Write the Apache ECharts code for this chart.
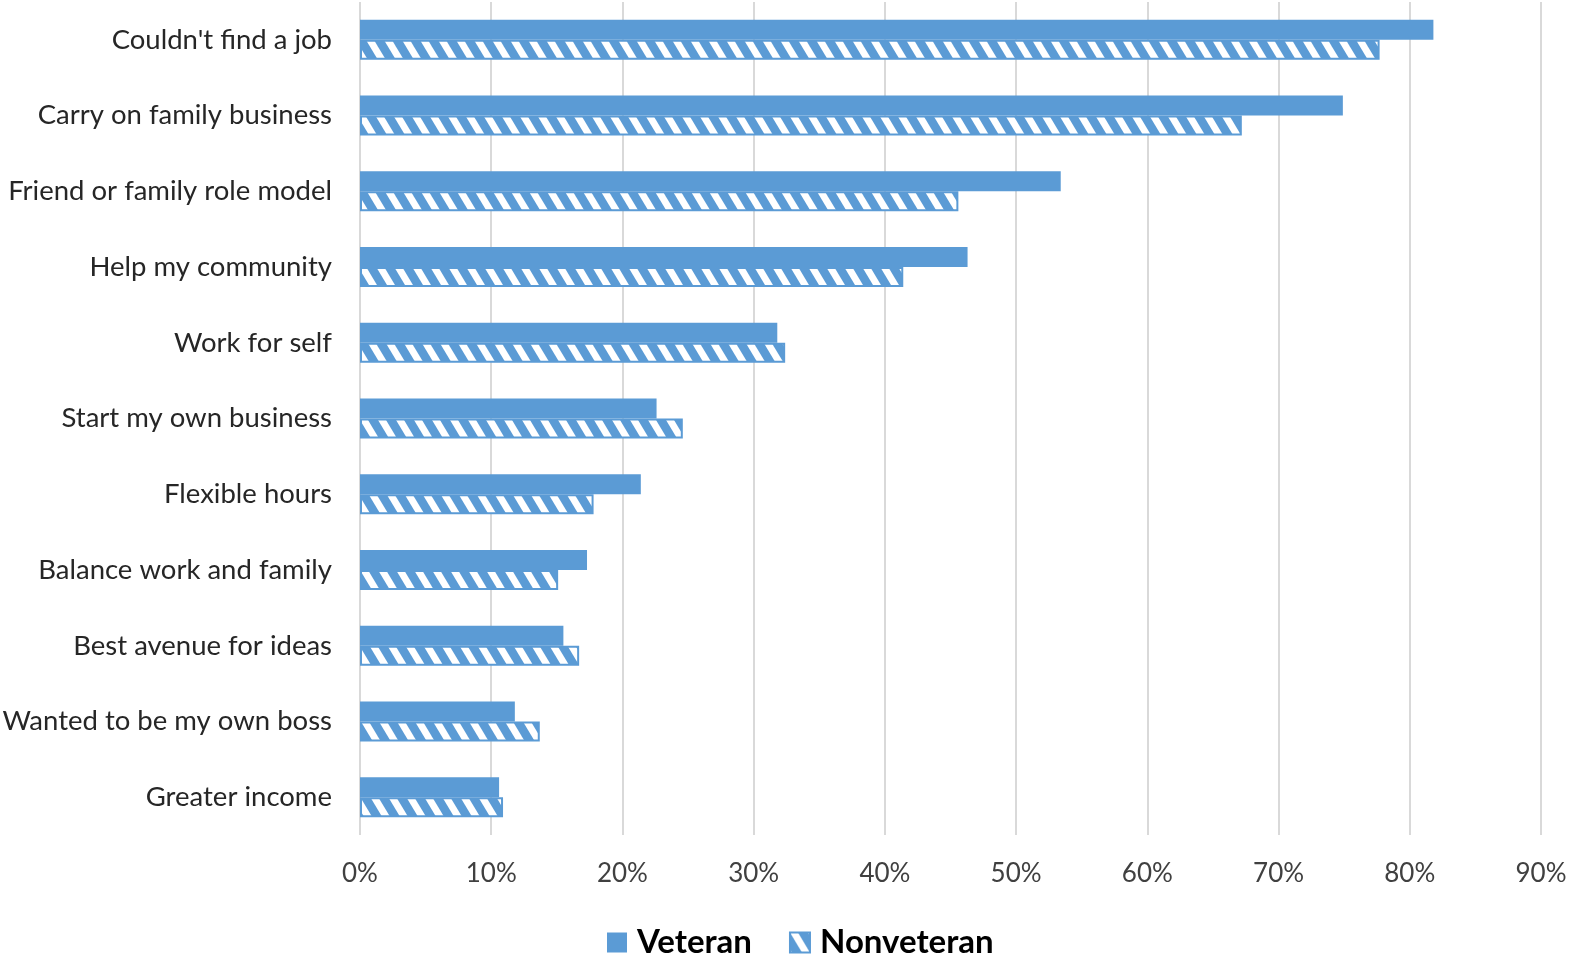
<!DOCTYPE html>
<html>
<head>
<meta charset="utf-8">
<script src="https://cdn.jsdelivr.net/npm/echarts@6/dist/echarts.min.js"></script>
<style>
  html, body { margin: 0; padding: 0; background: #ffffff; }
  #chart { width: 1570px; height: 957px; }
</style>
</head>
<body>
<div id="chart"></div>
<script>
// Reasons for starting a business, share of respondents (%)
const categories = [
  "Couldn't find a job",
  'Carry on family business',
  'Friend or family role model',
  'Help my community',
  'Work for self',
  'Start my own business',
  'Flexible hours',
  'Balance work and family',
  'Best avenue for ideas',
  'Wanted to be my own boss',
  'Greater income'
];
const veteran =    [81.8, 74.9, 53.4, 46.3, 31.8, 22.6, 21.4, 17.3, 15.5, 11.8, 10.6];
const nonveteran = [77.7, 67.2, 45.6, 41.4, 32.4, 24.6, 17.8, 15.1, 16.7, 13.7, 10.9];
const seriesNames = ['Veteran', 'Nonveteran'];

const BLUE = '#5B9BD5';
const FONT = 'Lato, "Open Sans", sans-serif';

// Diagonal hatch tile for the Nonveteran bars
function hatchTile() {
  const w = 18, h = 30, white = 8;
  const c = document.createElement('canvas');
  c.width = w; c.height = h;
  const g = c.getContext('2d');
  g.fillStyle = BLUE;
  g.fillRect(0, 0, w, h);
  g.fillStyle = '#ffffff';
  for (let k = -2; k <= 1; k++) {
    const x = k * w;
    g.beginPath();
    g.moveTo(x, 0);
    g.lineTo(x + white, 0);
    g.lineTo(x + white + w, h);
    g.lineTo(x + w, h);
    g.closePath();
    g.fill();
  }
  return c;
}

const chart = echarts.init(document.getElementById('chart'), null, { renderer: 'canvas' });

chart.setOption({
  animation: false,
  backgroundColor: '#ffffff',
  grid: {
    left: 360, right: 29, top: 2, bottom: 122,
    containLabel: false,
    outerBoundsMode: 'none'
  },
  legend: {
    top: 921,
    left: 602,
    icon: 'rect',
    itemWidth: 20,
    itemHeight: 20,
    itemGap: 37,
    textStyle: {
      fontFamily: FONT, fontSize: 33, fontWeight: 'bold', color: '#000000',
      padding: [0, 0, 0, 5]
    },
    data: seriesNames
  },
  xAxis: {
    type: 'value',
    min: 0,
    max: 90,
    interval: 10,
    axisLine: { show: false },
    axisTick: { show: false },
    axisLabel: {
      formatter: '{value}%',
      fontFamily: FONT,
      fontSize: 26,
      color: '#404040',
      margin: 26
    },
    splitLine: { show: true, lineStyle: { color: '#d9d9d9', width: 2 } }
  },
  yAxis: {
    type: 'category',
    inverse: true,
    data: categories,
    axisLine: { show: false },
    axisTick: { show: false },
    axisLabel: {
      fontFamily: FONT,
      fontSize: 27.5,
      color: '#262626',
      margin: 28
    }
  },
  series: [
    {
      name: seriesNames[0],
      type: 'bar',
      data: veteran,
      barWidth: 20,
      barGap: '0%',
      itemStyle: { color: BLUE }
    },
    {
      name: seriesNames[1],
      type: 'bar',
      data: nonveteran,
      barWidth: 20,
      barGap: '0%',
      itemStyle: {
        color: { image: hatchTile(), repeat: 'repeat' },
        borderColor: BLUE,
        borderWidth: 2
      }
    }
  ]
});
</script>
</body>
</html>
